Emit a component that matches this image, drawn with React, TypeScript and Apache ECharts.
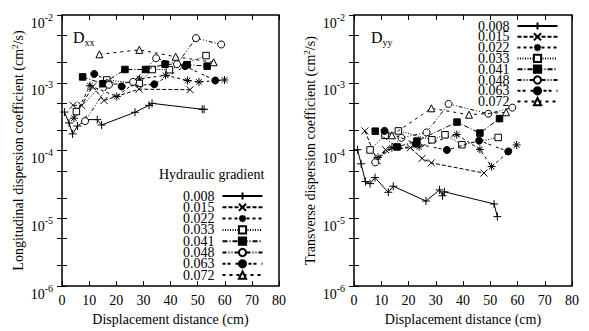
import React, { useEffect, useRef } from "react";
import * as echarts from "echarts";

const FONT = "Liberation Serif, Times New Roman, serif";

const gradients = ["0.008", "0.015", "0.022", "0.033", "0.041", "0.048", "0.063", "0.072"];
const xTicks = [0, 10, 20, 30, 40, 50, 60, 70, 80];
const yMinorTicks = [1e-6, 2e-6, 5e-6, 1e-5, 2e-5, 5e-5, 1e-4, 2e-4, 5e-4, 1e-3, 2e-3, 5e-3, 1e-2];

// Longitudinal (Dxx)
const dxx008X = [0.9, 2.6, 3.9, 5.7, 8.9, 13.0, 14.6, 26.9, 32.1, 33.2, 51.7, 52.4];
const dxx008Y = [3.7e-4, 2.55e-4, 1.76e-4, 2.3e-4, 2.86e-4, 2.86e-4, 2.38e-4, 3.67e-4, 4.65e-4, 4.97e-4, 4.06e-4, 4.06e-4];
const dxx015X = [4.1, 7.2, 11.3, 15.5, 28.4, 47.2];
const dxx015Y = [4.65e-4, 4.65e-4, 8.75e-4, 5.48e-4, 8.05e-4, 7.9e-4];
const dxx022X = [4.4, 10.3, 20.2, 28.6, 38.2, 46.3, 50.5, 59.9];
const dxx022Y = [3.0e-4, 9.06e-4, 6.27e-4, 1.14e-3, 1.29e-3, 1.08e-3, 1.03e-3, 1.1e-3];
const dxx033X = [5.3, 16.5, 28.5, 33.3, 39.6, 53.1];
const dxx033Y = [3.76e-4, 1.1e-3, 9.77e-4, 1.57e-3, 1.56e-3, 2.52e-3];
const dxx041X = [7.6, 15.1, 23.2, 30.8, 38.0, 46.1, 53.5];
const dxx041Y = [1.22e-3, 9.68e-4, 1.57e-3, 1.57e-3, 1.88e-3, 1.85e-3, 1.76e-3];
const dxx048X = [8.5, 17.3, 26.2, 34.7, 42.4, 49.4, 58.7];
const dxx048Y = [2.72e-4, 9.35e-4, 1.03e-3, 2.3e-3, 1.88e-3, 4.56e-3, 3.67e-3];
const dxx063X = [11.9, 22.0, 34.0, 45.4, 56.5];
const dxx063Y = [1.35e-3, 8.83e-4, 9.5e-4, 1.76e-3, 1.08e-3];
const dxx072X = [13.8, 28.5, 41.9, 55.9];
const dxx072Y = [2.63e-3, 3.06e-3, 2.42e-3, 2.01e-3];

// Transverse (Dyy)
const dyy008X = [1.3, 2.6, 4.2, 5.9, 7.7, 12.6, 14.4, 26.4, 31.4, 32.5, 33.2, 51.4, 52.6];
const dyy008Y = [1.03e-4, 6.37e-5, 3.49e-5, 3.25e-5, 3.99e-5, 2.42e-5, 2.98e-5, 1.8e-5, 2.63e-5, 2.15e-5, 2.46e-5, 1.63e-5, 1.06e-5];
const dyy015X = [4.0, 8.5, 11.6, 20.7, 25.0, 28.4, 47.7];
const dyy015Y = [1.95e-4, 7.05e-5, 1.03e-4, 1.1e-4, 7.66e-5, 6.59e-5, 4.65e-5];
const dyy022X = [8.8, 13.9, 23.9, 37.7, 46.2, 50.5, 59.7];
const dyy022Y = [7.93e-5, 1.1e-4, 1.14e-4, 1.72e-4, 1.04e-4, 5.8e-5, 1.21e-4];
const dyy033X = [5.9, 11.4, 16.3, 28.6, 33.4, 39.6, 52.9];
const dyy033Y = [1.02e-4, 1.68e-4, 1.95e-4, 1.44e-4, 1.71e-4, 1.22e-4, 1.56e-4];
const dyy041X = [7.8, 15.8, 23.1, 37.8, 46.2, 53.4];
const dyy041Y = [1.93e-4, 1.13e-4, 1.38e-4, 2.63e-4, 1.81e-4, 2.96e-4];
const dyy048X = [7.8, 17.4, 26.6, 34.7, 49.3, 58.1];
const dyy048Y = [6.7e-5, 1.54e-4, 1.85e-4, 4.88e-4, 3.49e-4, 4.3e-4];
const dyy063X = [11.2, 22.6, 34.1, 45.9, 56.6];
const dyy063Y = [1.95e-4, 1.26e-4, 1.02e-4, 1.4e-4, 9.7e-5];
const dyy072X = [13.9, 28.4, 42.2, 55.8];
const dyy072Y = [1.68e-4, 4.2e-4, 3.38e-4, 3.67e-4];

const dxxData = [
  [dxx008X, dxx008Y], [dxx015X, dxx015Y], [dxx022X, dxx022Y], [dxx033X, dxx033Y],
  [dxx041X, dxx041Y], [dxx048X, dxx048Y], [dxx063X, dxx063Y], [dxx072X, dxx072Y],
];
const dyyData = [
  [dyy008X, dyy008Y], [dyy015X, dyy015Y], [dyy022X, dyy022Y], [dyy033X, dyy033Y],
  [dyy041X, dyy041Y], [dyy048X, dyy048Y], [dyy063X, dyy063Y], [dyy072X, dyy072Y],
];

const PLUS = "path://M0,5L10,5M5,0L5,10";
const CROSS = "path://M0,0L10,10M0,10L10,0";
const STAR = "path://M0,5L10,5M5,0L5,10M1.5,1.5L8.5,8.5M1.5,8.5L8.5,1.5";

const styles: any[] = [
  { symbol: PLUS, size: 8, fill: "#000", dash: "solid" },
  { symbol: CROSS, size: 7, fill: "#000", dash: [4, 2] },
  { symbol: STAR, size: 8, fill: "#000", dash: [3, 3] },
  { symbol: "rect", size: 6.5, fill: "#fff", dash: [1, 1.5] },
  { symbol: "rect", size: 6.5, fill: "#000", dash: [5, 2, 1, 2] },
  { symbol: "circle", size: 7, fill: "#fff", dash: [4, 2, 1, 2, 1, 2] },
  { symbol: "circle", size: 7, fill: "#000", dash: [3, 2, 3, 5] },
  { symbol: "triangle", size: 7, fill: "#fff", dash: [3, 4] },
];

const textBase = { fontFamily: FONT, color: "#000", fontWeight: "normal" };

function makeSeries(data: any[], xi: number, yi: number) {
  return data.map(([xs, ys]: any, i: number) => ({
    type: "line",
    name: gradients[i],
    xAxisIndex: xi,
    yAxisIndex: yi,
    data: xs.map((x: number, k: number) => [x, ys[k]]),
    symbol: styles[i].symbol,
    symbolSize: styles[i].size,
    lineStyle: { color: "#000", width: 1, type: styles[i].dash },
    itemStyle: { color: styles[i].fill, borderColor: "#000", borderWidth: 1 },
    emphasis: { disabled: true },
    z: 3 + i,
  }));
}

const yLabel = {
  ...textBase,
  margin: 9,
  formatter: (v: number) => `{b|10}{s|${Math.round(Math.log10(v))}}`,
  rich: {
    b: { fontFamily: FONT, fontSize: 14, lineHeight: 14, color: "#000", padding: [8, 0, 0, 0], verticalAlign: "top" },
    s: { fontFamily: FONT, fontSize: 10, lineHeight: 10, color: "#000", padding: [4, 0, 0, 0], verticalAlign: "top" },
  },
};

function xAxes(grid: number) {
  const common = {
    gridIndex: grid,
    type: "value",
    min: 0,
    max: 80,
    interval: 10,
    splitLine: { show: false },
    axisLine: { show: false },
    axisTick: { inside: true, length: 5, lineStyle: { color: "#000", width: 1 } },
  };
  return [
    {
      ...common,
      position: "bottom",
      axisLabel: { ...textBase, fontSize: 14, margin: 7, customValues: xTicks },
      name: "Displacement distance (cm)",
      nameLocation: "middle",
      nameGap: 21,
      nameTextStyle: { ...textBase, fontSize: 14 },
    },
    { ...common, position: "top", axisLabel: { show: false } },
  ];
}

function yAxes(grid: number, title: string) {
  const common = {
    gridIndex: grid,
    type: "log",
    logBase: 10,
    min: 1e-6,
    max: 1e-2,
    splitLine: { show: false },
    axisLine: { show: false },
    axisTick: { inside: true, length: 5, lineStyle: { color: "#000", width: 1 }, customValues: yMinorTicks },
  };
  return [
    {
      ...common,
      position: "left",
      axisLabel: yLabel,
      name: title,
      nameLocation: "middle",
      nameGap: 34,
      nameRotate: 90,
      nameTextStyle: {
        ...textBase,
        fontSize: 14,
        lineHeight: 16,
        rich: { s: { fontFamily: FONT, fontSize: 9, lineHeight: 9, color: "#000", verticalAlign: "top" } },
      },
    },
    { ...common, position: "right", axisLabel: { show: false } },
  ];
}

function legendFor(left: number, top: number, lineHeight: number, gap: number) {
  return {
    orient: "vertical",
    left,
    top,
    align: "right",
    itemWidth: 40,
    itemHeight: 9,
    itemGap: gap,
    padding: 0,
    selectedMode: false,
    data: gradients,
    textStyle: { ...textBase, fontSize: 14, lineHeight, padding: [0, 3, 0, 0] },
  };
}

export default function App() {
  const ref = useRef<HTMLDivElement>(null);
  useEffect(() => {
    document.body.style.margin = "0";
    if (!ref.current) return;
    const chart = echarts.init(ref.current, undefined, { renderer: "svg" });
    chart.setOption({
      animation: false,
      backgroundColor: "#fff",
      textStyle: { fontFamily: FONT, color: "#000" },
      grid: [
        { left: 62, top: 15, width: 217, height: 276, show: true, borderColor: "#000", borderWidth: 1.5, backgroundColor: "transparent" },
        { left: 354, top: 15, width: 218, height: 276, show: true, borderColor: "#000", borderWidth: 1.5, backgroundColor: "transparent" },
      ],
      xAxis: [...xAxes(0), ...xAxes(1)],
      yAxis: [
        ...yAxes(0, "Longitudinal dispersion coefficient (cm{s|2}/s)"),
        ...yAxes(1, "Transverse dispersion coefficient (cm{s|2}/s)"),
      ],
      legend: [legendFor(183, 189, 12, -2.7), legendFor(478, 19, 11, -3.2)],
      graphic: [
        {
          type: "text",
          left: 159,
          top: 167,
          style: { text: "Hydraulic gradient", font: `14px ${FONT}`, fill: "#000" },
        },
        {
          type: "text",
          left: 73,
          top: 29,
          style: {
            text: "{d|D}{s|xx}",
            fill: "#000",
            rich: {
              d: { fontFamily: FONT, fontSize: 16, lineHeight: 16, verticalAlign: "top" },
              s: { fontFamily: FONT, fontSize: 10, lineHeight: 10, padding: [8, 0, 0, 0], verticalAlign: "top" },
            },
          },
        },
        {
          type: "text",
          left: 371,
          top: 29,
          style: {
            text: "{d|D}{s|yy}",
            fill: "#000",
            rich: {
              d: { fontFamily: FONT, fontSize: 16, lineHeight: 16, verticalAlign: "top" },
              s: { fontFamily: FONT, fontSize: 10, lineHeight: 10, padding: [8, 0, 0, 0], verticalAlign: "top" },
            },
          },
        },
      ],
      series: [...makeSeries(dxxData, 0, 0), ...makeSeries(dyyData, 2, 2)],
    });
    return () => chart.dispose();
  }, []);
  return <div ref={ref} style={{ width: 589, height: 331 }} />;
}
